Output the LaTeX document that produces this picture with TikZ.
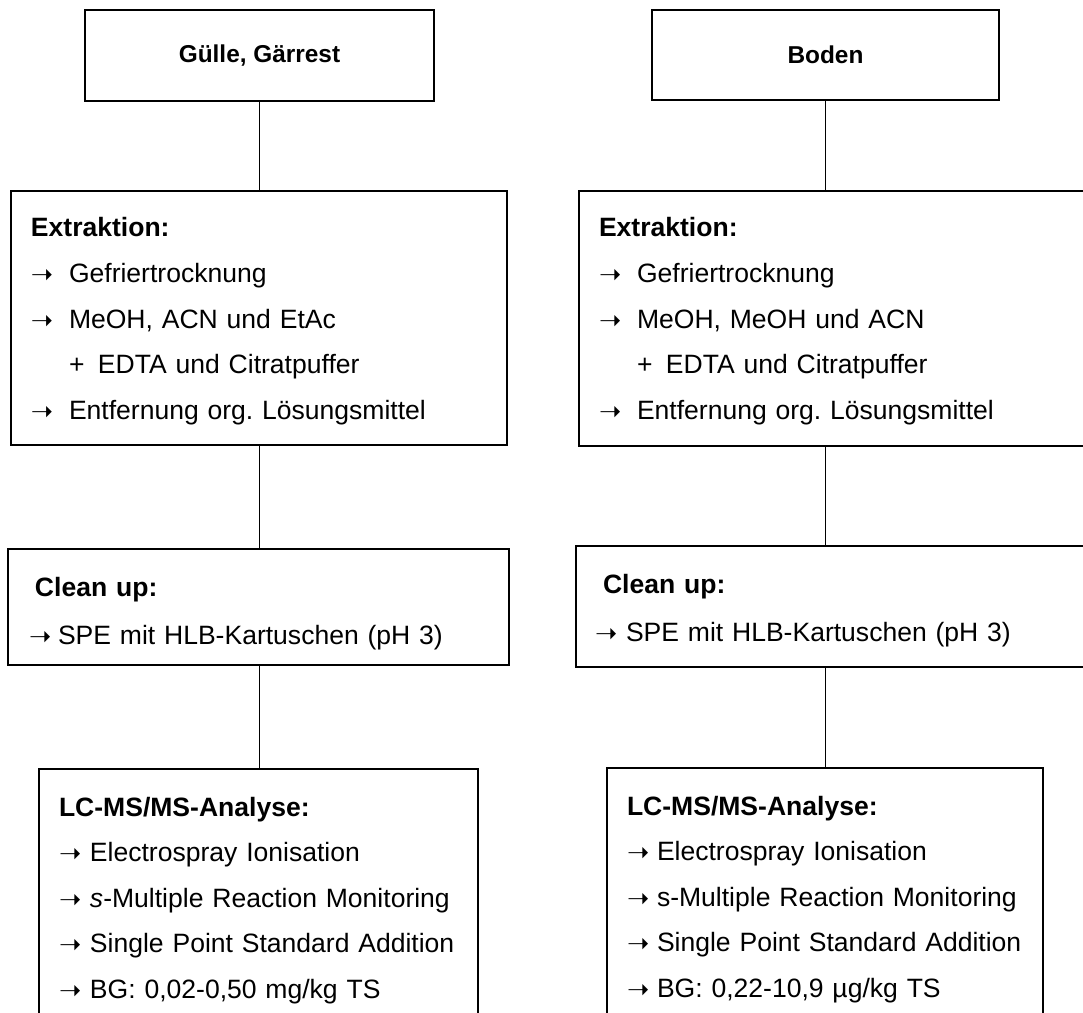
\documentclass[tikz,border=0pt]{standalone}
\usepackage{fontspec}
\setmainfont{Liberation Sans}
\newfontfamily\ArrowFont{DejaVu Sans}

\newlength{\PixelUnit}
\setlength{\PixelUnit}{0.75pt}
\newcommand{\StepArrow}[1]{\makebox[#1\PixelUnit][l]{\raisebox{-1\PixelUnit}{\ArrowFont\fontsize{20}{20}\selectfont ➝}}}
\newcommand{\StepPlus}{\hspace*{38\PixelUnit}\makebox[29\PixelUnit][l]{+}}
\newcommand{\TopStrut}[1]{\rule{0pt}{#1\PixelUnit}}
\newcommand{\BottomStrut}[1]{\rule[-#1\PixelUnit]{0pt}{#1\PixelUnit}}

\tikzset
{
  GenericBoxStyle/.style =
  {
    shape = rectangle,
    draw,
    line width = 2\PixelUnit,
    anchor = north west,
    outer sep = 0pt,
    inner ysep = 0pt,
    align = left,
    font = \fontsize{19.9}{34.2}\selectfont\frenchspacing,
  },
  TitleBoxStyle/.style =
  {
    GenericBoxStyle,
    align = center,
    font = \fontsize{18.3}{24}\selectfont\bfseries,
  },
  ConnectorStyle/.style =
  {
    line width = 1.3\PixelUnit,
  }
}

\begin{document}
\begin{tikzpicture}[x=0.75pt, y=-0.75pt]
  \useasboundingbox (0,0) rectangle (1083,1013);
  \clip (0,0) rectangle (1083,1013);

  % left column
  \node[TitleBoxStyle, minimum width=349\PixelUnit, minimum height=91\PixelUnit]
    (GuelleNode) at (85,10) {Gülle, Gärrest};
  \node[GenericBoxStyle, inner xsep=20\PixelUnit, text width=456\PixelUnit]
    (ExtrLeftNode) at (11,191) {
      \TopStrut{46}\textbf{Extraktion:}\\
      \StepArrow{38}Gefriertrocknung\\
      \StepArrow{38}MeOH, ACN und EtAc\\
      \StepPlus EDTA und Citratpuffer\\
      \StepArrow{38}Entfernung org. Lösungsmittel\BottomStrut{26}
    };
  \node[GenericBoxStyle, inner xsep=21\PixelUnit, text width=459\PixelUnit]
    (CleanLeftNode) at (8,549) {
      \TopStrut{47}\hspace*{6\PixelUnit}\textbf{Clean up:}\\[3\PixelUnit]
      \StepArrow{29}SPE mit HLB-Kartuschen (pH 3)\BottomStrut{20}
    };
  \node[GenericBoxStyle, inner xsep=20\PixelUnit, text width=399\PixelUnit]
    (AnalyseLeftNode) at (39,769) {
      \TopStrut{47}\textbf{LC-MS/MS-Analyse:}\\
      \StepArrow{31}Electrospray Ionisation\\
      \StepArrow{31}\textit{s}-Multiple Reaction Monitoring\\
      \StepArrow{31}Single Point Standard Addition\\
      \StepArrow{31}BG: 0,02-0,50 mg/kg TS\BottomStrut{30}
    };

  % right column
  \node[TitleBoxStyle, minimum width=347\PixelUnit, minimum height=90\PixelUnit]
    (BodenNode) at (652,10) {Boden};
  \node[GenericBoxStyle, inner xsep=20\PixelUnit, text width=480\PixelUnit]
    (ExtrRightNode) at (579,191) {
      \TopStrut{46}\textbf{Extraktion:}\\
      \StepArrow{38}Gefriertrocknung\\
      \StepArrow{38}MeOH, MeOH und ACN\\
      \StepPlus EDTA und Citratpuffer\\
      \StepArrow{38}Entfernung org. Lösungsmittel\BottomStrut{27}
    };
  \node[GenericBoxStyle, inner xsep=19\PixelUnit, text width=482\PixelUnit]
    (CleanRightNode) at (576,546) {
      \TopStrut{47}\hspace*{8\PixelUnit}\textbf{Clean up:}\\[3\PixelUnit]
      \StepArrow{31}SPE mit HLB-Kartuschen (pH 3)\BottomStrut{25}
    };
  \node[GenericBoxStyle, inner xsep=20\PixelUnit, text width=396\PixelUnit]
    (AnalyseRightNode) at (607,768) {
      \TopStrut{47}\textbf{LC-MS/MS-Analyse:}\\
      \StepArrow{30}Electrospray Ionisation\\
      \StepArrow{30}s-Multiple Reaction Monitoring\\
      \StepArrow{30}Single Point Standard Addition\\
      \StepArrow{30}BG: 0,22-10,9 µg/kg TS\BottomStrut{30}
    };

  % connectors
  \draw[ConnectorStyle] (GuelleNode.south) -- (GuelleNode.south |- ExtrLeftNode.north);
  \draw[ConnectorStyle] (GuelleNode.south |- ExtrLeftNode.south) -- (GuelleNode.south |- CleanLeftNode.north);
  \draw[ConnectorStyle] (GuelleNode.south |- CleanLeftNode.south) -- (GuelleNode.south |- AnalyseLeftNode.north);
  \draw[ConnectorStyle] (BodenNode.south) -- (BodenNode.south |- ExtrRightNode.north);
  \draw[ConnectorStyle] (BodenNode.south |- ExtrRightNode.south) -- (BodenNode.south |- CleanRightNode.north);
  \draw[ConnectorStyle] (BodenNode.south |- CleanRightNode.south) -- (BodenNode.south |- AnalyseRightNode.north);
\end{tikzpicture}
\end{document}
